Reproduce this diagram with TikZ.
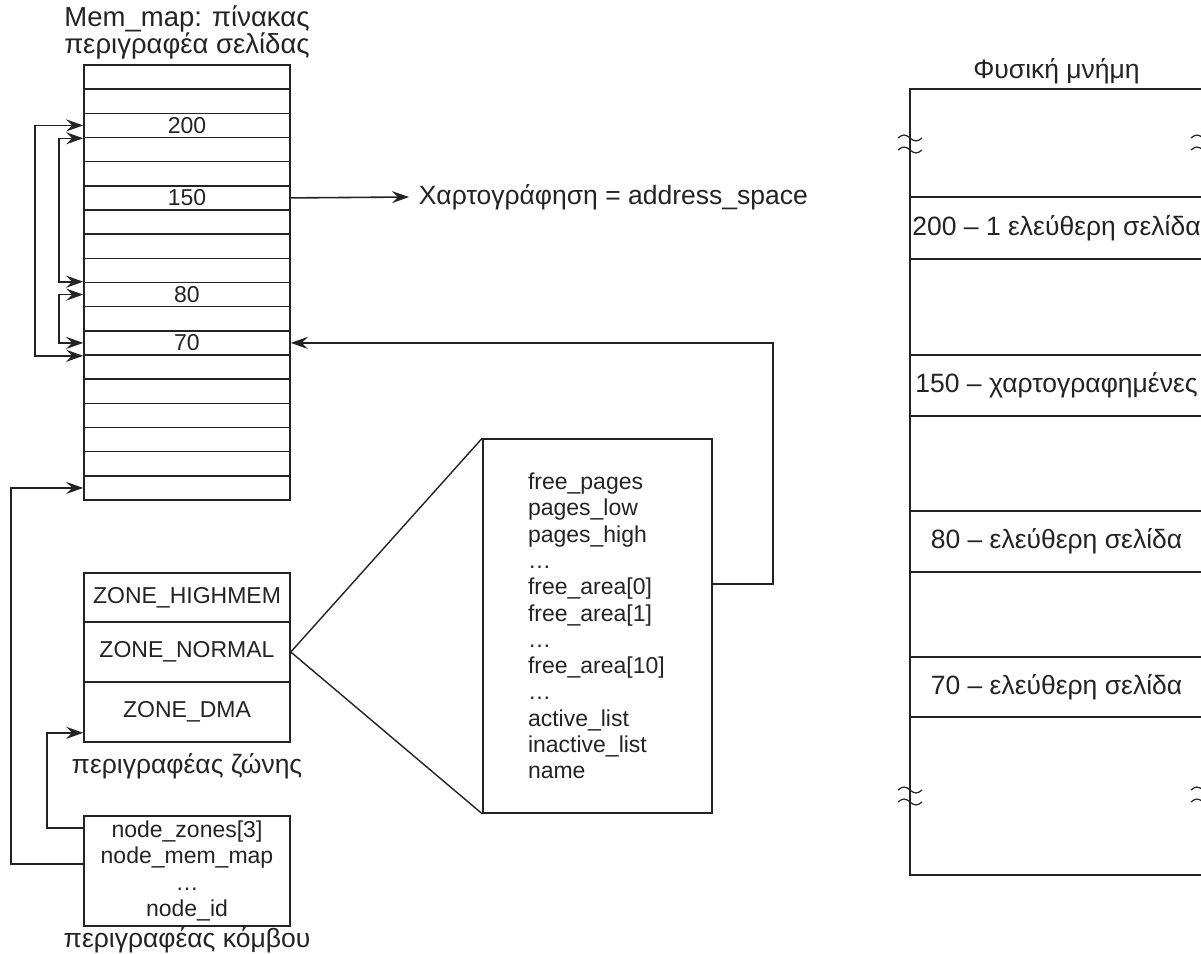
\documentclass[tikz,border=0pt]{standalone}
\usepackage{fontspec}
\setmainfont{Liberation Sans}
\usetikzlibrary{arrows.meta}
\definecolor{ink}{RGB}{35,35,35}
\newcommand\boxfont{\fontsize{23}{26.5}\selectfont}
\newcommand\labfont{\fontsize{26.5}{28}\selectfont}
\newcommand\titfont{\fontsize{27.5}{28}\selectfont}
\begin{document}
\begin{tikzpicture}[x=1pt,y=-1pt,line width=1.6pt,color=ink,
  >={Stealth[length=17pt,width=12pt,inset=6pt]},
  row/.style={draw,minimum width=206pt,minimum height=24.17pt,inner sep=0pt,font=\boxfont},
  zone/.style={draw,minimum width=206pt,inner sep=0pt,font=\boxfont},
  memrow/.style={draw,minimum width=293pt,inner xsep=0pt,font=\labfont},
  lab/.style={font=\labfont,inner sep=0pt}]
\useasboundingbox (0,0) rectangle (1201,953);
% title of page descriptor array
\node[lab,font=\titfont,anchor=base] (mmt1) at (187,27) {Mem\_map: πίνακας};
\node[lab,font=\titfont,anchor=base] (mmt2) at (187,53) {περιγραφέα σελίδας};
% page descriptor rows
\foreach \i/\t in {1/{},2/{},3/200,4/{},5/{},6/150,7/{},8/{},9/{},10/80,11/{},12/70,13/{},14/{},15/{},16/{},17/{},18/{}}
  \node[row] (r\i) at (187,{65+(\i-0.5)*24.1667}) {\t};
% linked list arrows
\draw[<->] (r12.south west) -- ++(-48,0) |- (r3.west);
\draw[<->] (r10.north west) -- ++(-24,0) |- (r3.south west);
\draw[<->] (r12.west) -- ++(-24,0) |- (r10.west);
% mapping
\node[lab,anchor=west] (map) at (418,197) {Χαρτογράφηση = address\_space};
\draw[->] (r6.east) -- ([xshift=-9pt]map.west);
% zones
\node[zone,minimum height=49pt] (z1) at (187,597.5) {ZONE\_HIGHMEM};
\node[zone,minimum height=60pt] (z2) at (187,652) {ZONE\_NORMAL};
\node[zone,minimum height=60pt] (z3) at (187,712) {ZONE\_DMA};
\node[lab] (zl) at (187,766) {περιγραφέας ζώνης};
% node descriptor
\node[draw,minimum width=206pt,minimum height=110pt,inner sep=0pt,align=center,font=\boxfont] (nb) at (187,871)
  {node\_zones[3]\\node\_mem\_map\\…\\node\_id};
\node[lab] (nl) at (187,940) {περιγραφέας κόμβου};
\draw[->] ([yshift=-13pt]nb.north west) -- ++(-36,0) |- ([yshift=10pt]z3.south west);
\draw[->] ([yshift=-49pt]nb.north west) -- ++(-72,0) |- (r18.west);
% zone descriptor detail
\node[draw,minimum width=229pt,minimum height=374pt,text width=139pt,inner xsep=45pt,align=left,
  font=\fontsize{23}{26.3}\selectfont] (big) at (597.5,626)
  {free\_pages\\pages\_low\\pages\_high\\…\\free\_area[0]\\free\_area[1]\\…\\free\_area[10]\\…\\active\_list\\inactive\_list\\name};
\draw[line width=1.4pt] (z2.east) -- (big.north west);
\draw[line width=1.4pt] (z2.east) -- (big.south west);
\draw[->] ([yshift=42pt]big.east) -- ++(60,0) |- (r12.east);
% physical memory
\node[lab] (mt) at (1056.5,71) {Φυσική μνήμη};
\node[draw,minimum width=293pt,minimum height=786pt,inner sep=0pt] (mem) at (1056.5,482) {};
\node[memrow,minimum height=62pt] (m200) at (1056.5,228) {200 – 1 ελεύθερη σελίδα};
\node[memrow,minimum height=61pt] (m150) at (1056.5,385.5) {150 – χαρτογραφημένες};
\node[memrow,minimum height=61pt] (m80) at (1056.5,541.5) {80 – ελεύθερη σελίδα};
\node[memrow,minimum height=60pt] (m70) at (1056.5,687) {70 – ελεύθερη σελίδα};
\foreach \bx/\by in {910/144,1203/144,910/796,1203/796}{
  \draw[line width=1.2pt] (\bx-12,\by-6) sin (\bx-6,\by-9) cos (\bx,\by-6) sin (\bx+6,\by-3) cos (\bx+12,\by-6);
  \draw[line width=1.2pt] (\bx-12,\by+6) sin (\bx-6,\by+3) cos (\bx,\by+6) sin (\bx+6,\by+9) cos (\bx+12,\by+6);
}
\end{tikzpicture}
\end{document}
